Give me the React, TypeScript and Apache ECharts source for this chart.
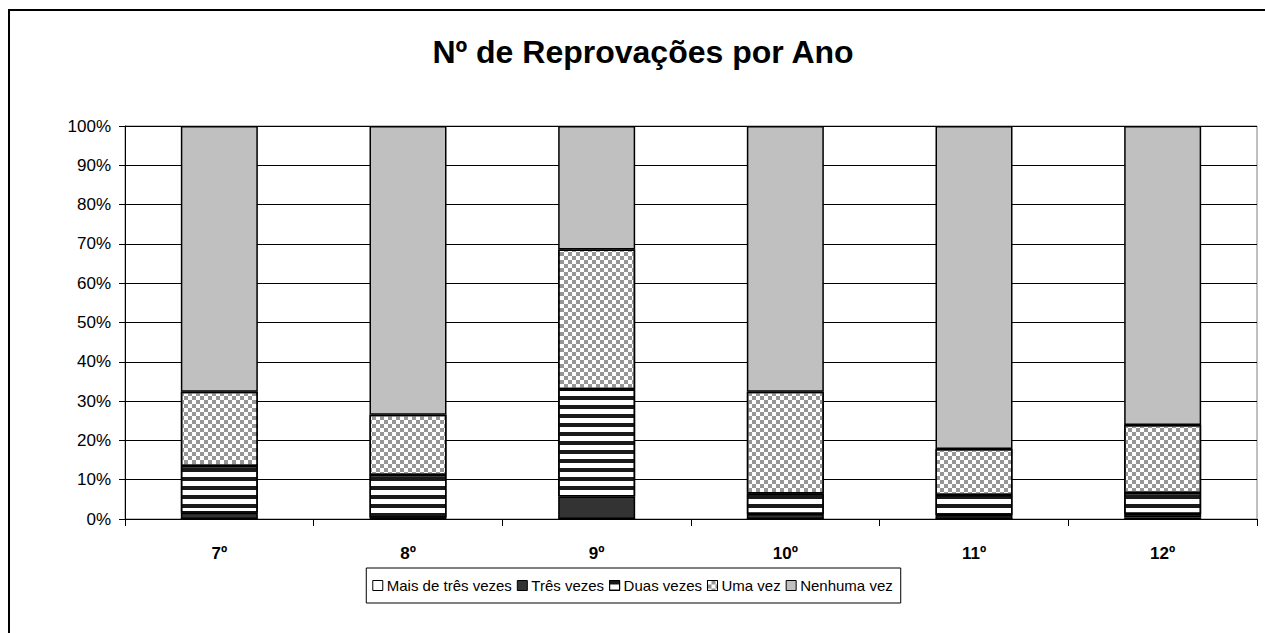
import React, { useEffect, useRef } from "react";
import * as echarts from "echarts";

const categories = ["7º", "8º", "9º", "10º", "11º", "12º"];
const maisDeTres = [0, 0, 0, 0, 0, 0.4];
const tresVezes = [1.6, 0.3, 5.7, 1.3, 1.0, 0.9];
const duasVezes = [11.9, 10.9, 27.3, 5.2, 5.1, 5.3];
const umaVez = [18.9, 15.3, 35.6, 25.9, 11.7, 17.3];
const nenhumaVez = [67.6, 73.5, 31.4, 67.6, 82.2, 76.1];
const yTicks = [0, 10, 20, 30, 40, 50, 60, 70, 80, 90, 100];

const FONT = "Arial, 'Liberation Sans', sans-serif";

export default function App() {
  const ref = useRef<HTMLDivElement>(null);
  useEffect(() => {
    document.body.style.margin = "0";
    const chart = echarts.init(ref.current!, null, { renderer: "svg" });
    const base = {
      type: "bar",
      stack: "total",
      barWidth: 77,
      itemStyle: { borderColor: "#000", borderWidth: 1.5 },
    };
    chart.setOption({
      animation: false,
      backgroundColor: "#fff",
      title: {
        text: "Nº de Reprovações por Ano",
        left: 638,
        textAlign: "center",
        top: 31,
        textStyle: { fontFamily: FONT, fontSize: 32, fontWeight: "bold", color: "#000" },
      },
      graphic: [
        {
          type: "rect",
          shape: { x: 9, y: 10, width: 1300, height: 700 },
          style: { fill: "none", stroke: "#000", lineWidth: 2 },
          silent: true,
          z: -10,
        },
      ],
      legend: {
        bottom: 30,
        left: "center",
        icon: "rect",
        itemWidth: 10,
        itemHeight: 10,
        itemGap: 5,
        padding: [10, 8, 10, 6],
        borderColor: "#000",
        borderWidth: 1,
        itemStyle: { borderColor: "#000", borderWidth: 1 },
        textStyle: { fontFamily: FONT, fontSize: 15, color: "#000", padding: [0, 0, 0, -1] },
        data: ["Mais de três vezes", "Três vezes", "Duas vezes", "Uma vez", "Nenhuma vez"],
      },
      grid: { left: 125, right: 8, top: 126, bottom: 114, show: true, borderColor: "#808080", borderWidth: 1 },
      xAxis: {
        type: "category",
        data: categories,
        axisLine: { lineStyle: { color: "#000", width: 1 } },
        axisTick: { show: true, length: 7, lineStyle: { color: "#000" } },
        axisLabel: { fontFamily: FONT, fontSize: 17, fontWeight: "bold", color: "#000", margin: 26 },
      },
      yAxis: {
        type: "value",
        min: yTicks[0],
        max: yTicks[yTicks.length - 1],
        interval: 10,
        axisLine: { show: true, lineStyle: { color: "#000", width: 1 } },
        axisTick: { show: true, length: 6, lineStyle: { color: "#000" } },
        axisLabel: { fontFamily: FONT, fontSize: 17, color: "#000", margin: 14, formatter: "{value}%" },
        splitLine: { lineStyle: { color: "#000", width: 1 } },
      },
      series: [
        { ...base, name: "Mais de três vezes", data: maisDeTres, itemStyle: { ...base.itemStyle, color: "#fff" } },
        { ...base, name: "Três vezes", data: tresVezes, itemStyle: { ...base.itemStyle, color: "#333333" } },
        {
          ...base,
          name: "Duas vezes",
          data: duasVezes,
          itemStyle: {
            ...base.itemStyle,
            color: "#fff",
            decal: {
              symbol: "rect",
              symbolSize: 1,
              color: "#1a1a1a",
              dashArrayX: [1, 0],
              dashArrayY: [3.5, 4.2],
              rotation: 0,
            },
          },
        },
        {
          ...base,
          name: "Uma vez",
          data: umaVez,
          itemStyle: {
            ...base.itemStyle,
            color: "#fff",
            decal: {
              symbol: "rect",
              symbolSize: 1,
              color: "#969696",
              dashArrayX: [[4, 4], [0, 4, 4, 0]],
              dashArrayY: [4, 0],
              rotation: 0,
            },
          },
        },
        { ...base, name: "Nenhuma vez", data: nenhumaVez, itemStyle: { ...base.itemStyle, color: "#c0c0c0" } },
      ],
    });
    return () => chart.dispose();
  }, []);
  return <div ref={ref} style={{ width: 1265, height: 633 }} />;
}
